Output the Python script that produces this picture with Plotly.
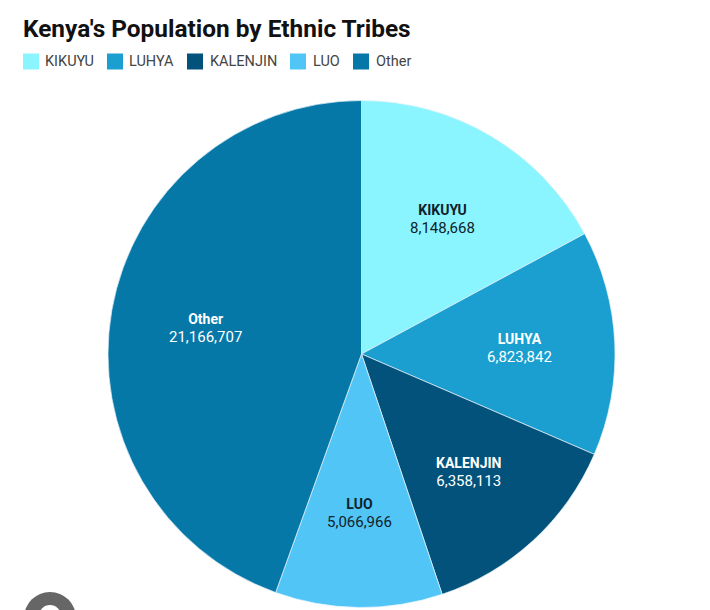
import math
import plotly.graph_objects as go

# --- data ---
TITLE = "Kenya's Population by Ethnic Tribes"
TRIBES = ["KIKUYU", "LUHYA", "KALENJIN", "LUO", "Other"]
POPULATION = [8148668, 6823842, 6358113, 5066966, 21166707]
COLORS = ["#8AF5FF", "#1A9FD0", "#02527C", "#52C5F7", "#0678A8"]
LABEL_COLORS = ["#10222A", "#FFFFFF", "#FFFFFF", "#10222A", "#FFFFFF"]

# --- layout config (pixels in the 710x610 picture) ---
W, H = 710, 610
PIE_LEFT, PIE_RIGHT = 108, 615
PIE_TOP, PIE_BOTTOM = 100, 608
LABEL_RADIUS = 0.625    # labels sit on the slice mid angle, this far out
LABEL_SHIFT_Y = 1.5
LEGEND_BOX_X = [23, 107, 187, 290, 353]
LEGEND_TEXT_X = [43, 127, 208, 311, 374]
LEGEND_Y = 61.5
BOX = 16


def fx(px):
    return px / W


def fy(py):
    return 1 - py / H


fig = go.Figure(go.Pie(
    labels=TRIBES,
    values=POPULATION,
    sort=False,
    direction="clockwise",
    rotation=0,
    marker=dict(colors=COLORS, line=dict(color="#E8F4FA", width=0.7)),
    textinfo="none",
    domain=dict(x=[fx(PIE_LEFT), fx(PIE_RIGHT)], y=[fy(PIE_BOTTOM), fy(PIE_TOP)]),
    showlegend=False,
    hoverinfo="label+value",
))

# legend drawn by hand: the pie legend swatches can't be sized like the original
shapes = []
annotations = []
for name, color, bx, tx in zip(TRIBES, COLORS, LEGEND_BOX_X, LEGEND_TEXT_X):
    shapes.append(dict(type="rect", xref="paper", yref="paper",
                       x0=fx(bx), x1=fx(bx + BOX),
                       y0=fy(LEGEND_Y - BOX / 2), y1=fy(LEGEND_Y + BOX / 2),
                       fillcolor=color, line=dict(width=0)))
    annotations.append(dict(text=name, xref="paper", yref="paper",
                            x=fx(tx), y=fy(LEGEND_Y), xanchor="left", yanchor="middle",
                            showarrow=False,
                            font=dict(family="Roboto", size=14.5, color="#444444")))

# slice labels: pie text can't be pushed to a fixed radius, so place them from the values
cx = (PIE_LEFT + PIE_RIGHT) / 2
cy = (PIE_TOP + PIE_BOTTOM) / 2
radius = (PIE_RIGHT - PIE_LEFT) / 2
total = sum(POPULATION)
running = 0
for name, value, color in zip(TRIBES, POPULATION, LABEL_COLORS):
    angle = 2 * math.pi * (running + value / 2) / total
    running += value
    annotations.append(dict(
        text=f"<b>{name}</b><br><span style='font-size:15px'>{value:,}</span>",
        xref="paper", yref="paper",
        x=fx(cx + LABEL_RADIUS * radius * math.sin(angle)),
        y=fy(cy - LABEL_RADIUS * radius * math.cos(angle) + LABEL_SHIFT_Y),
        xanchor="center", yanchor="middle", showarrow=False,
        font=dict(family="Roboto", size=14, color=color)))

# grey round badge cut off at the bottom left
shapes.append(dict(type="circle", xref="paper", yref="paper",
                   x0=fx(24), x1=fx(76), y0=fy(644), y1=fy(592),
                   fillcolor="#666666", line=dict(width=0)))
shapes.append(dict(type="circle", xref="paper", yref="paper",
                   x0=fx(39), x1=fx(61), y0=fy(627), y1=fy(605),
                   fillcolor="#FFFFFF", line=dict(width=0)))

annotations.append(dict(text="<b>" + TITLE + "</b>", xref="paper", yref="paper",
                        x=fx(21), y=fy(28.5), xanchor="left", yanchor="middle",
                        showarrow=False,
                        font=dict(family="Roboto", size=24.4, color="#111111")))

fig.update_layout(
    width=W, height=H,
    margin=dict(l=0, r=0, t=0, b=0),
    paper_bgcolor="white",
    shapes=shapes,
    annotations=annotations,
)

# browser's default body margin would push the figure 8px down and right
fig.write_html("out.html", config=dict(displayModeBar=False),
               post_script="document.body.style.margin='0';")
